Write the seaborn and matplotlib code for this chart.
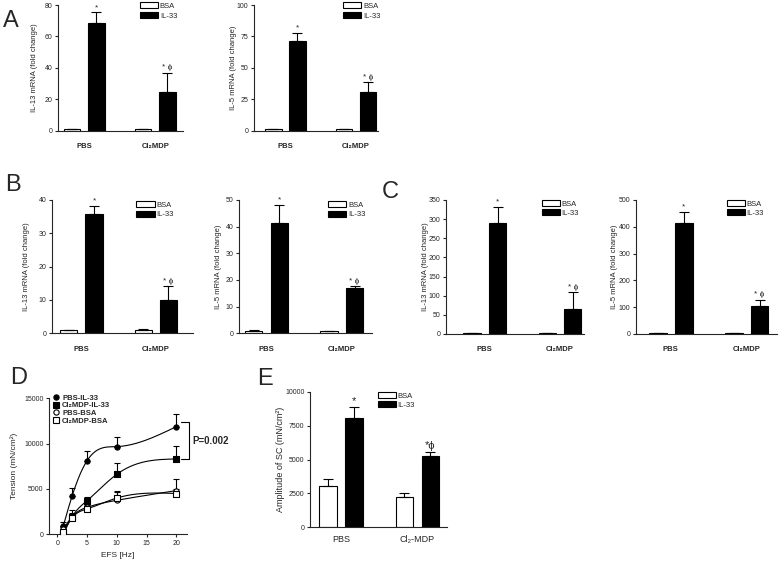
import numpy as np
import pandas as pd
import seaborn as sns
import matplotlib.pyplot as plt
from matplotlib.patches import Patch
from matplotlib.lines import Line2D

# ---- values ----
groups = ["PBS", "Cl\u2082MDP"]
groups_e = ["PBS", "Cl\u2082-MDP"]
treatments = ["BSA", "IL-33"]

a_il13_bsa = [1.0, 1.2]
a_il13_bsa_err = [0.2, 0.2]
a_il13_il33 = [68.3, 24.8]
a_il13_il33_err = [7.1, 12.1]

a_il5_bsa = [1.0, 1.5]
a_il5_bsa_err = [0.1, 0.2]
a_il5_il33 = [71.4, 30.7]
a_il5_il33_err = [6.7, 7.8]

b_il13_bsa = [1.0, 1.1]
b_il13_bsa_err = [0.1, 0.1]
b_il13_il33 = [35.8, 10.0]
b_il13_il33_err = [2.5, 4.1]

b_il5_bsa = [1.0, 0.8]
b_il5_bsa_err = [0.1, 0.1]
b_il5_il33 = [41.2, 16.9]
b_il5_il33_err = [7.0, 0.7]

c_il13_bsa = [1.5, 1.5]
c_il13_bsa_err = [0.2, 0.2]
c_il13_il33 = [291.0, 66.0]
c_il13_il33_err = [42.0, 44.0]

c_il5_bsa = [2.0, 2.0]
c_il5_bsa_err = [0.3, 0.3]
c_il5_il33 = [413.0, 104.0]
c_il5_il33_err = [43.0, 24.0]

e_bsa = [3010, 2220]
e_bsa_err = [545, 295]
e_il33 = [8070, 5280]
e_il33_err = [790, 250]

efs_hz = [1, 2.5, 5, 10, 20]
pbs_il33 = [920, 4260, 8120, 9670, 11870]
pbs_il33_err = [480, 900, 1100, 1030, 1370]
cl_il33 = [0, 1950, 3710, 6620, 8310]
cl_il33_err = [300, 350, 370, 1210, 1470]
pbs_bsa = [550, 1950, 2980, 3750, 4820]
pbs_bsa_err = [250, 730, 300, 900, 1250]
cl_bsa = [300, 1840, 2800, 4000, 4500]
cl_bsa_err = [200, 300, 250, 780, 500]

# ---- style ----
sns.set_style("ticks")
plt.rcParams["font.family"] = ["Liberation Sans", "DejaVu Sans"]
plt.rcParams["axes.linewidth"] = 0.8
plt.rcParams["xtick.major.width"] = 0.8
plt.rcParams["ytick.major.width"] = 0.8

W, H = 779, 562
fig = plt.figure(figsize=(W / 100, H / 100), dpi=100)


def px_axes(box):
    l, t, r, b = box
    return fig.add_axes([l / W, 1 - b / H, (r - l) / W, (b - t) / H])


def ylabel_at(ax, box, text, cx, size):
    l, t, r, b = box
    ax.set_ylabel(text, fontsize=size)
    ax.yaxis.set_label_coords((cx + 0.6 * size * 100 / 72 - l) / (r - l), 0.5)


def bar_panel(box, bsa, bsa_err, il33, il33_err, ymax, step, ylabel, ylabel_x,
              xlim, leg_xy, cats=groups, cat_pad=8.6, star_size=6,
              marks=("*", "* \u03d5"), star_off=0.01):
    ax = px_axes(box)
    df = pd.DataFrame({
        "group": cats * 2,
        "treatment": ["BSA"] * 2 + ["IL-33"] * 2,
        "value": bsa + il33,
    })
    sns.barplot(data=df, x="group", y="value", hue="treatment",
                hue_order=treatments, palette={"BSA": "white", "IL-33": "black"},
                edgecolor="black", linewidth=0.8, width=0.68, gap=0.32,
                saturation=1, errorbar=None, legend=False, ax=ax)
    for cont, err in zip(ax.containers, [bsa_err, il33_err]):
        xs = [p.get_x() + p.get_width() / 2 for p in cont]
        ys = [p.get_height() for p in cont]
        ax.errorbar(xs, ys, yerr=[np.zeros(len(err)), err], fmt="none",
                    ecolor="black", elinewidth=0.8, capsize=3.5,
                    capthick=0.8, zorder=3)
    top = ax.containers[1]
    for p, err, m in zip(top, il33_err, marks):
        ax.text(p.get_x() + p.get_width() / 2, p.get_height() + err + star_off * ymax,
                m, ha="center", va="bottom", fontsize=star_size)
    ax.set_ylim(0, ymax)
    ax.set_yticks(np.arange(0, ymax + 1, step))
    ax.set_xlim(*xlim)
    ax.set_xlabel("")
    ylabel_at(ax, box, ylabel, ylabel_x, 5.5)
    ax.tick_params(axis="y", length=2.5, labelsize=5, pad=1.5)
    ax.tick_params(axis="x", length=0, labelsize=5.5, pad=cat_pad)
    for lab in ax.get_xticklabels():
        lab.set_fontweight("bold")
    sns.despine(ax=ax)
    handles = [Patch(facecolor="white", edgecolor="black", linewidth=0.8, label="BSA"),
               Patch(facecolor="black", edgecolor="black", linewidth=0.8, label="IL-33")]
    ax.legend(handles=handles, loc="upper left", bbox_to_anchor=leg_xy,
              frameon=False, fontsize=5.5, handlelength=2.4, handleheight=0.8,
              handletextpad=0.2, labelspacing=0.25, borderaxespad=0, borderpad=0)
    return ax


bar_panel((58, 5, 183, 130.7), a_il13_bsa, a_il13_bsa_err, a_il13_il33, a_il13_il33_err,
          80, 20, "IL-13 mRNA (fold change)", 33, (-0.37, 1.39), (0.656, 1.02))
bar_panel((254, 5, 378, 130.7), a_il5_bsa, a_il5_bsa_err, a_il5_il33, a_il5_il33_err,
          100, 25, "IL-5 mRNA (fold change)", 232, (-0.445, 1.31), (0.718, 1.02))
bar_panel((51.7, 200, 193, 333.3), b_il13_bsa, b_il13_bsa_err, b_il13_il33, b_il13_il33_err,
          40, 10, "IL-13 mRNA (fold change)", 25, (-0.40, 1.50), (0.60, 0.99), cat_pad=9.1)
bar_panel((239, 200, 372, 333.3), b_il5_bsa, b_il5_bsa_err, b_il5_il33, b_il5_il33_err,
          50, 10, "IL-5 mRNA (fold change)", 217, (-0.364, 1.40), (0.67, 0.99), cat_pad=9.1)
bar_panel((446, 200, 584, 334), c_il13_bsa, c_il13_bsa_err, c_il13_il33, c_il13_il33_err,
          350, 50, "IL-13 mRNA (fold change)", 424, (-0.517, 1.32), (0.694, 1.0))
bar_panel((636, 200, 777, 334), c_il5_bsa, c_il5_bsa_err, c_il5_il33, c_il5_il33_err,
          500, 100, "IL-5 mRNA (fold change)", 613, (-0.46, 1.40), (0.643, 1.0))
ax_e = bar_panel((310, 392, 447, 527), e_bsa, e_bsa_err, e_il33, e_il33_err,
                 10000, 2500, "Amplitude of SC (mN/cm\u00b2)", 280, (-0.405, 1.386),
                 (0.494, 1.0), cats=groups_e, cat_pad=6.0, star_size=8,
                 marks=("*", "*\u03d5"))
for lab in ax_e.get_xticklabels():
    lab.set_fontweight("normal")
    lab.set_fontsize(6.5)
ax_e.yaxis.label.set_fontsize(6.5)


# ---- panel D: EFS frequency response ----
def smooth(x, y, n=200):
    # natural cubic spline through the points, used only to draw the fit line
    x = np.asarray(x, float)
    y = np.asarray(y, float)
    k = len(x)
    h = np.diff(x)
    A = np.zeros((k, k))
    r = np.zeros(k)
    A[0, 0] = A[-1, -1] = 1
    for i in range(1, k - 1):
        A[i, i - 1] = h[i - 1]
        A[i, i] = 2 * (h[i - 1] + h[i])
        A[i, i + 1] = h[i]
        r[i] = 6 * ((y[i + 1] - y[i]) / h[i] - (y[i] - y[i - 1]) / h[i - 1])
    m = np.linalg.solve(A, r)
    xs = np.linspace(x[0], x[-1], n)
    idx = np.clip(np.searchsorted(x, xs) - 1, 0, k - 2)
    t0, t1 = x[idx], x[idx + 1]
    hh = t1 - t0
    a = (t1 - xs) / hh
    b = (xs - t0) / hh
    ys = a * y[idx] + b * y[idx + 1] + ((a ** 3 - a) * m[idx] + (b ** 3 - b) * m[idx + 1]) * hh ** 2 / 6
    return xs, ys


box_d = (49, 398.3, 187, 534.3)
ax_d = px_axes(box_d)
series_d = [
    ("PBS-IL-33", pbs_il33, pbs_il33_err, "o", "black"),
    ("Cl\u2082MDP-IL-33", cl_il33, cl_il33_err, "s", "black"),
    ("PBS-BSA", pbs_bsa, pbs_bsa_err, "o", "white"),
    ("Cl\u2082MDP-BSA", cl_bsa, cl_bsa_err, "s", "white"),
]
for name, vals, err, mk, fc in series_d:
    xs, ys = smooth(efs_hz, vals)
    ax_d.plot(xs, ys, color="black", lw=0.8, zorder=2)
    ax_d.errorbar(efs_hz, vals, yerr=[np.zeros(len(err)), err], fmt="none",
                  ecolor="black", elinewidth=0.8, capsize=2.5, capthick=0.8, zorder=2)
    sns.scatterplot(x=efs_hz, y=vals, marker=mk, color=fc, edgecolor="black",
                    linewidth=0.8, s=14, zorder=4, ax=ax_d)
ax_d.set_xlim(-1.4, 21.8)
ax_d.set_ylim(0, 15000)
ax_d.set_xticks([0, 5, 10, 15, 20])
ax_d.set_yticks([0, 5000, 10000, 15000])
ax_d.tick_params(axis="both", length=2.5, labelsize=5, pad=1.5)
ax_d.set_xlabel("EFS [Hz]", fontsize=6, labelpad=4)
ylabel_at(ax_d, box_d, "Tension (mN/cm\u00b2)", 13, 6)
sns.despine(ax=ax_d)
handles_d = [Line2D([], [], ls="none", marker=mk, markerfacecolor=fc,
                    markeredgecolor="black", markersize=3.8, markeredgewidth=0.8, label=name)
             for name, _, _, mk, fc in series_d]
leg = ax_d.legend(handles=handles_d, loc="upper left", bbox_to_anchor=(0.029, 1.03),
                  frameon=False, fontsize=5.5, handlelength=0.8, handletextpad=0.4,
                  labelspacing=0.05, borderaxespad=0, borderpad=0)
for t in leg.get_texts():
    t.set_fontweight("bold")

# bracket with p value
ax_d.plot([20.8, 22.2, 22.2, 20.8], [12350, 12350, 8300, 8300], color="black",
          lw=0.8, clip_on=False)
ax_d.text(22.7, 10325, "P=0.002", fontsize=7, fontweight="bold", va="center",
          ha="left", clip_on=False)

# ---- panel letters ----
for letter, x, yb in [("A", 3, 27), ("B", 5, 191), ("C", 382, 198),
                      ("D", 10, 384), ("E", 257, 385)]:
    fig.text(x / W, 1 - yb / H, letter, fontsize=17, va="baseline", ha="left")

fig.savefig("out.png", dpi=100)
